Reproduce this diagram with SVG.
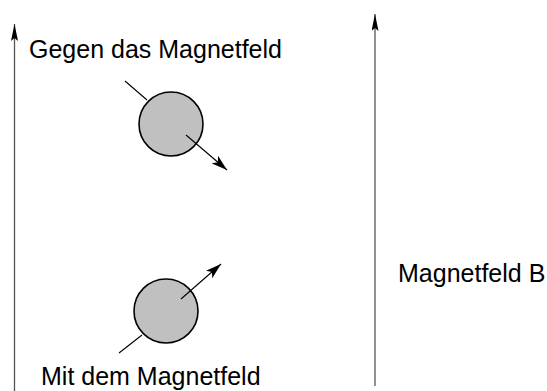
<svg xmlns="http://www.w3.org/2000/svg" width="547" height="391" viewBox="0 0 547 391">
<style>
text{font-family:"Liberation Sans",Arial,sans-serif;font-size:25px;fill:#000}
.field{stroke:#555;stroke-width:1.3;fill:none}
.spin{stroke:#000;stroke-width:1.1;fill:none}
.ball{fill:#c0c0c0;stroke:#000;stroke-width:1.6}
</style>
<defs>
<marker id="ahv" viewBox="0 0 17 7" refX="17" refY="3.5" markerWidth="17" markerHeight="7" markerUnits="userSpaceOnUse" orient="auto">
<path d="M0,0 L17,3.5 L0,7 L3,3.5 Z" fill="#000"/>
</marker>
<marker id="ah" viewBox="0 0 16 10" refX="16" refY="5" markerWidth="16" markerHeight="10" markerUnits="userSpaceOnUse" orient="auto">
<path d="M0,0 L16,5 L0,10 L4,5 Z" fill="#000"/>
</marker>
</defs>
<g id="connectors">
<line class="field" x1="14.5" y1="391" x2="14.5" y2="24" marker-end="url(#ahv)"/>
<line class="field" x1="375" y1="386" x2="375" y2="14" marker-end="url(#ahv)"/>
</g>
<g id="teilchen-gegen">
<line class="spin" x1="125" y1="81" x2="147" y2="100"/>
<circle class="ball" cx="171" cy="124" r="32"/>
<line class="spin" x1="186" y1="135" x2="227" y2="170" marker-end="url(#ah)"/>
</g>
<g id="teilchen-mit">
<line class="spin" x1="119" y1="353" x2="142" y2="335"/>
<circle class="ball" cx="166" cy="311" r="32"/>
<line class="spin" x1="181" y1="299" x2="221" y2="264" marker-end="url(#ah)"/>
</g>
<g id="labels">
<text x="29" y="58">Gegen das Magnetfeld</text>
<text x="398" y="282">Magnetfeld B</text>
<text x="41" y="385">Mit dem Magnetfeld</text>
</g>
</svg>
